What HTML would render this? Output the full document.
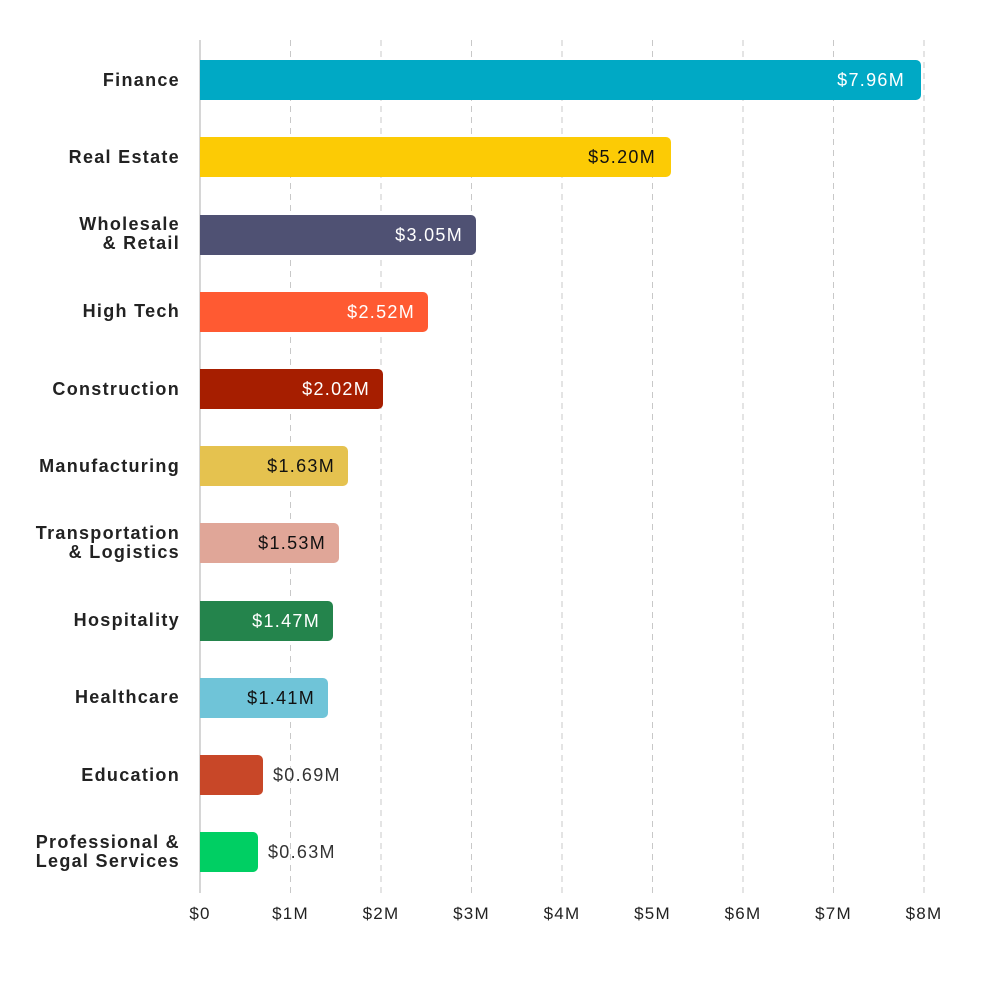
<!DOCTYPE html>
<html><head><meta charset="utf-8"><style>
body{margin:0;background:#fff;}
svg text{font-family:"Liberation Sans",sans-serif;}
</style></head><body>
<svg width="1000" height="1000" viewBox="0 0 1000 1000" xmlns="http://www.w3.org/2000/svg">
<g stroke="#c8c8c8" stroke-width="1" stroke-dasharray="6,5">
<line x1="290.5" y1="40" x2="290.5" y2="893"/>
<line x1="381" y1="40" x2="381" y2="893"/>
<line x1="471.5" y1="40" x2="471.5" y2="893"/>
<line x1="562" y1="40" x2="562" y2="893"/>
<line x1="652.5" y1="40" x2="652.5" y2="893"/>
<line x1="743" y1="40" x2="743" y2="893"/>
<line x1="833.5" y1="40" x2="833.5" y2="893"/>
<line x1="924" y1="40" x2="924" y2="893"/>
</g>
<line x1="200" y1="40" x2="200" y2="893" stroke="#c8c8c8" stroke-width="1.5"/>
<g font-size="17" fill="#222" text-anchor="middle" letter-spacing="1.2">
<text x="200" y="919">$0</text><text x="290.5" y="919">$1M</text><text x="381" y="919">$2M</text><text x="471.5" y="919">$3M</text><text x="562" y="919">$4M</text><text x="652.5" y="919">$5M</text><text x="743" y="919">$6M</text><text x="833.5" y="919">$7M</text><text x="924" y="919">$8M</text>
</g>
<g font-size="18" font-weight="bold" fill="#222" text-anchor="end" letter-spacing="1.3">
<text x="180" y="86">Finance</text>
<text x="180" y="163">Real Estate</text>
<text x="180" y="230">Wholesale</text><text x="180" y="249">&amp; Retail</text>
<text x="180" y="317">High Tech</text>
<text x="180" y="395">Construction</text>
<text x="180" y="472">Manufacturing</text>
<text x="180" y="539">Transportation</text><text x="180" y="558">&amp; Logistics</text>
<text x="180" y="626">Hospitality</text>
<text x="180" y="703">Healthcare</text>
<text x="180" y="781">Education</text>
<text x="180" y="848">Professional &amp;</text><text x="180" y="867">Legal Services</text>
</g>
<g>
<path d="M200 60 H916 a5 5 0 0 1 5 5 V95 a5 5 0 0 1 -5 5 H200Z" fill="#00a9c5"/>
<path d="M200 137 H666 a5 5 0 0 1 5 5 V172 a5 5 0 0 1 -5 5 H200Z" fill="#fccb05"/>
<path d="M200 215 H471 a5 5 0 0 1 5 5 V250 a5 5 0 0 1 -5 5 H200Z" fill="#4f5173"/>
<path d="M200 292 H423 a5 5 0 0 1 5 5 V327 a5 5 0 0 1 -5 5 H200Z" fill="#ff5a32"/>
<path d="M200 369 H378 a5 5 0 0 1 5 5 V404 a5 5 0 0 1 -5 5 H200Z" fill="#a61e00"/>
<path d="M200 446 H343 a5 5 0 0 1 5 5 V481 a5 5 0 0 1 -5 5 H200Z" fill="#e5c24f"/>
<path d="M200 523 H334 a5 5 0 0 1 5 5 V558 a5 5 0 0 1 -5 5 H200Z" fill="#e0a698"/>
<path d="M200 601 H328 a5 5 0 0 1 5 5 V636 a5 5 0 0 1 -5 5 H200Z" fill="#24844c"/>
<path d="M200 678 H323 a5 5 0 0 1 5 5 V713 a5 5 0 0 1 -5 5 H200Z" fill="#6fc4d8"/>
<path d="M200 755 H258 a5 5 0 0 1 5 5 V790 a5 5 0 0 1 -5 5 H200Z" fill="#c84728"/>
<path d="M200 832 H253 a5 5 0 0 1 5 5 V867 a5 5 0 0 1 -5 5 H200Z" fill="#00cf63"/>
</g>
<g font-size="18" text-anchor="end" letter-spacing="1.3">
<text x="905" y="86" fill="#fff">$7.96M</text>
<text x="656" y="163" fill="#111">$5.20M</text>
<text x="463" y="241" fill="#fff">$3.05M</text>
<text x="415" y="318" fill="#fff">$2.52M</text>
<text x="370" y="395" fill="#fff">$2.02M</text>
<text x="335" y="472" fill="#111">$1.63M</text>
<text x="326" y="549" fill="#111">$1.53M</text>
<text x="320" y="627" fill="#fff">$1.47M</text>
<text x="315" y="704" fill="#111">$1.41M</text>
</g>
<g font-size="18" fill="#333" letter-spacing="1.3">
<text x="273" y="781">$0.69M</text>
<text x="268" y="858">$0.63M</text>
</g>
</svg>
</body></html>
